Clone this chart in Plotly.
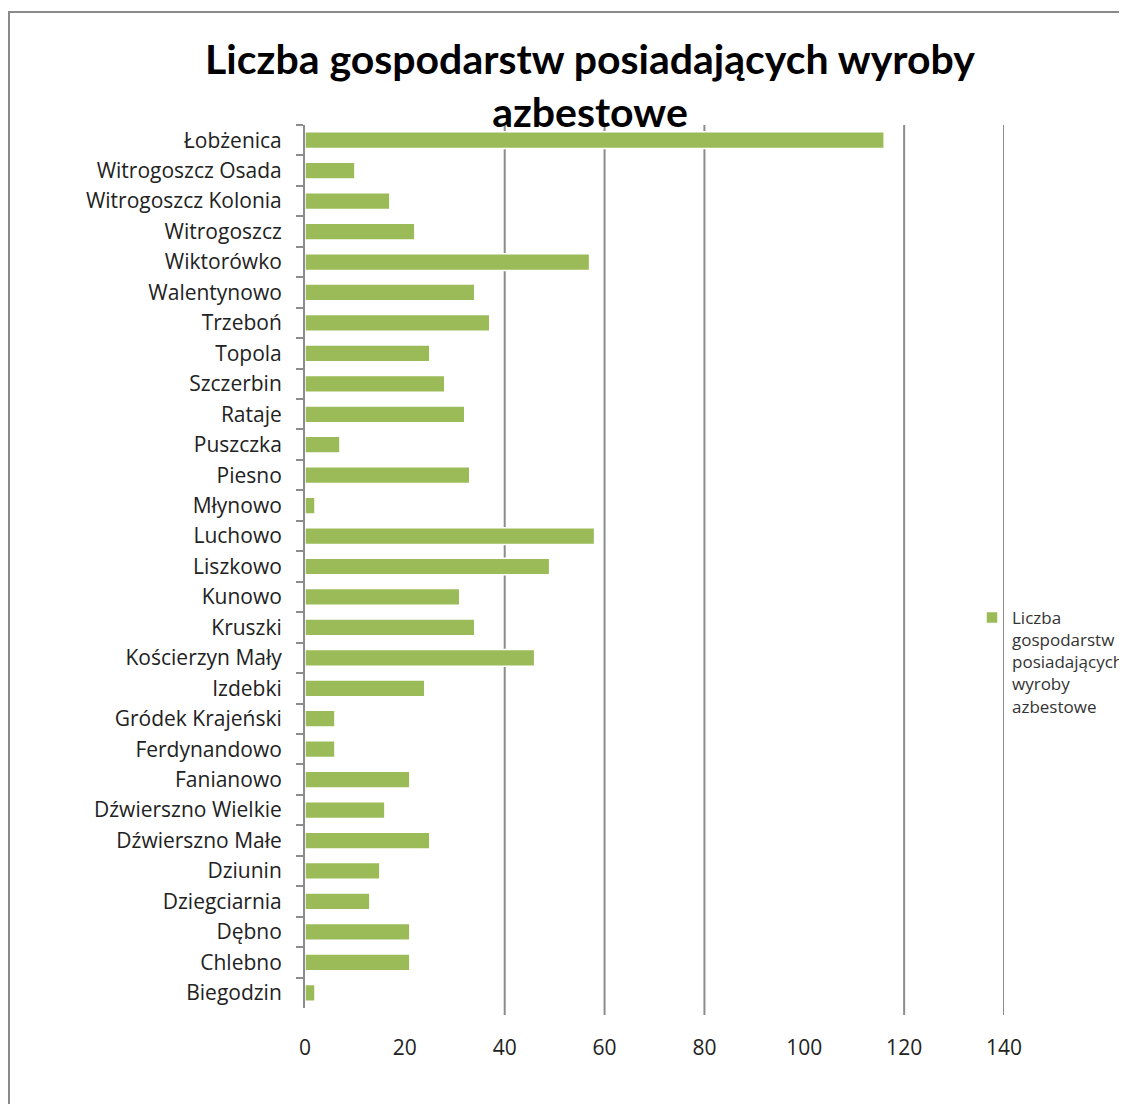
import plotly.graph_objects as go

categories = [
    "Łobżenica", "Witrogoszcz Osada", "Witrogoszcz Kolonia", "Witrogoszcz",
    "Wiktorówko", "Walentynowo", "Trzeboń", "Topola", "Szczerbin", "Rataje",
    "Puszczka", "Piesno", "Młynowo", "Luchowo", "Liszkowo", "Kunowo", "Kruszki",
    "Kościerzyn Mały", "Izdebki", "Gródek Krajeński", "Ferdynandowo",
    "Fanianowo", "Dźwierszno Wielkie", "Dźwierszno Małe", "Dziunin",
    "Dziegciarnia", "Dębno", "Chlebno", "Biegodzin",
]
values = [
    116, 10, 17, 22,
    57, 34, 37, 25, 28, 32,
    7, 33, 2, 58, 49, 31, 34,
    46, 24, 6, 6,
    21, 16, 25, 15,
    13, 21, 21, 2,
]
series_name = "Liczba<br>gospodarstw<br>posiadających<br>wyroby<br>azbestowe"
title_text = "Liczba gospodarstw posiadających wyroby<br>azbestowe"
x_ticks = [0, 20, 40, 60, 80, 100, 120, 140]
grid_values = [40, 60, 80, 120, 140]

OFF = 8  # page body margin
W, H = 1127 - OFF, 1104 - OFF
# target pixel positions in the screenshot
L, R, T, B = 305, 1004, 125, 1008

def px(x):
    return (x - L) / (R - L)

def py(y):
    return (B - y) / (B - T)

fig = go.Figure()
fig.add_trace(go.Bar(
    y=categories, x=values, orientation="h", name=series_name,
    marker=dict(color="#9BBB59", line=dict(color="white", width=1.5)),
    showlegend=True,
))

shapes = []
for g in grid_values:
    shapes.append(dict(type="line", xref="x", yref="paper", x0=g, x1=g,
                       y0=py(1015), y1=1, line=dict(color="#8c8c8c", width=2),
                       layer="below"))
# outer chart frame
shapes.append(dict(type="rect", xref="paper", yref="paper",
                   x0=px(9), x1=px(1140), y0=py(1120), y1=py(12),
                   line=dict(color="#8a8a8a", width=2), layer="below"))

fig.update_layout(
    width=W, height=H,
    margin=dict(l=L - OFF, r=(W + OFF) - R, t=T - OFF, b=(H + OFF) - B,
                autoexpand=False),
    paper_bgcolor="white", plot_bgcolor="white",
    font=dict(family="Open Sans, Lato, sans-serif", color="#222"),
    title=dict(text="<b>" + title_text + "</b>", x=(590 - OFF) / W,
               xanchor="center", y=1 - (74 - OFF) / H, yanchor="top",
               font=dict(size=41, color="black", family="Lato, sans-serif")),
    bargap=0.45,
    shapes=shapes,
    xaxis=dict(range=[0, 140], tickvals=x_ticks, showgrid=False, zeroline=False,
               showline=False, ticks="", ticklabelstandoff=25,
               tickfont=dict(size=21, color="#222")),
    yaxis=dict(autorange="reversed", showgrid=False, showline=True,
               linecolor="#8c8c8c", linewidth=2, ticks="outside", ticklen=7,
               tickcolor="#8c8c8c", tickwidth=2, tickson="boundaries",
               ticklabelstandoff=17, tickfont=dict(size=21, color="#222")),
    legend=dict(x=px(972), xanchor="left", y=py(662), yanchor="middle",
                valign="top", font=dict(size=17, color="#333"),
                bgcolor="rgba(0,0,0,0)", itemwidth=30, tracegroupgap=0),
)

fig.write_html("out.html")
